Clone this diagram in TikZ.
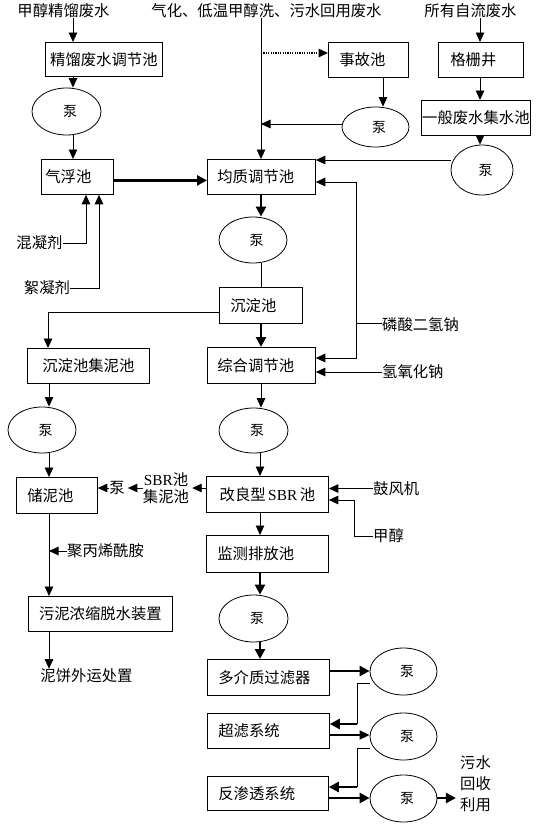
\documentclass[tikz,border=0pt]{standalone}
\usepackage{fontspec}
\setmainfont{Noto Sans CJK SC}
\newfontfamily\latf{Liberation Serif}
\usetikzlibrary{shapes.geometric,arrows.meta}
\newcommand{\pumptext}{\hspace*{7bp}泵}
\begin{document}
\begin{tikzpicture}[x=1bp,y=-1bp,
 every node/.style={font=\fontsize{15.4}{17}\selectfont},
 box/.style={draw, line width=0.8bp, inner ysep=0pt, inner xsep=0pt, anchor=north west},
 lbox/.style={box, align=left},
 pump/.style={draw, ellipse, line width=0.8bp, inner sep=0pt, font=\fontsize{14}{16}\selectfont},
 lbl/.style={inner sep=0pt},
 ln/.style={line width=0.9bp},
 arr/.style={ln, -{Triangle[width=8.5bp,length=9.5bp]}},
 tarr/.style={line width=2.6bp, -{Triangle[width=10bp,length=10bp]}},
 marr/.style={line width=1.6bp, -{Triangle[width=9bp,length=10bp]}},
 dotarr/.style={line width=1.4bp, dash pattern=on 1.2bp off 1.2bp, -{Triangle[width=8.5bp,length=9.5bp]}},
]
\useasboundingbox (0,0) rectangle (536,824);

% boxes
\node[box, minimum width=117bp, minimum height=34bp] (b1) at (45,42) {精馏废水调节池};
\node[lbox, minimum height=35bp, inner xsep=4bp, text width=64bp] (qf) at (41,159) {气浮池};
\node[lbox, minimum height=35bp, inner xsep=10bp, text width=88bp] (jz) at (207,159) {均质调节池};
\node[lbox, minimum height=35bp, inner xsep=11bp, text width=58bp] (sg) at (328,42) {事故池};
\node[lbox, minimum height=35bp, inner xsep=12bp, text width=61bp] (gs) at (438,42) {格栅井};
\node[box, minimum width=109bp, minimum height=35bp] (yb) at (421,100) {一般废水集水池};
\node[lbox, minimum height=36bp, inner xsep=11bp, text width=61bp] (cd) at (219,287) {沉淀池};
\node[box, minimum width=122bp, minimum height=35bp] (jn) at (27,348) {沉淀池集泥池};
\node[lbox, minimum height=36bp, inner xsep=10bp, text width=88bp] (zh) at (207,347) {综合调节池};
\node[lbox, minimum height=36bp, inner xsep=11bp, text width=59bp] (cn) at (16,477) {储泥池};
\node[box, minimum width=122bp, minimum height=36bp] (sbr) at (206,476) {改良型{\latf\,SBR\,}池};
\node[lbox, minimum height=37bp, inner xsep=11bp, text width=100bp] (jc) at (206,535) {监测排放池};
\node[box, minimum width=144bp, minimum height=35bp] (wn) at (28,596) {污泥浓缩脱水装置};
\node[lbox, minimum height=36bp, inner xsep=11bp, text width=100bp] (dj) at (207,659) {多介质过滤器};
\node[lbox, minimum height=35bp, inner xsep=11bp, text width=100bp] (cl) at (207,713) {超滤系统};
\node[lbox, minimum height=34bp, inner xsep=11bp, text width=99bp] (fs) at (207,776) {反渗透系统};

% pumps
\node[pump, minimum width=69bp, minimum height=47bp] (p1) at (66.5,111.5) {\pumptext};
\node[pump, minimum width=67bp, minimum height=40bp] (p2) at (375.5,127) {\pumptext};
\node[pump, minimum width=62bp, minimum height=50bp] (p3) at (482,170) {\pumptext};
\node[pump, minimum width=68bp, minimum height=46bp] (p4) at (253,240) {\pumptext};
\node[pump, minimum width=68bp, minimum height=46bp] (p5) at (42,430) {\pumptext};
\node[pump, minimum width=69bp, minimum height=45bp] (p6) at (253.5,430.5) {\pumptext};
\node[pump, minimum width=69bp, minimum height=47bp] (p7) at (253.5,618.5) {\pumptext};
\node[pump, minimum width=67bp, minimum height=47bp] (p8) at (403.5,671.5) {\pumptext};
\node[pump, minimum width=67bp, minimum height=47bp] (p9) at (403.5,736.5) {\pumptext};
\node[pump, minimum width=67bp, minimum height=47bp] (p10) at (403.5,798.5) {\pumptext};

% labels
\node[lbl] (t1) at (63.5,11) {甲醇精馏废水};
\node[lbl] (t2) at (266.5,11) {气化、低温甲醇洗、污水回用废水};
\node[lbl] (t3) at (470.5,11) {所有自流废水};
\node[lbl] (tH) at (39.5,243) {混凝剂};
\node[lbl] (tX) at (47,288) {絮凝剂};
\node[lbl, anchor=west] (tP) at (382,325) {磷酸二氢钠};
\node[lbl, anchor=west] (tN) at (382,372) {氢氧化钠};
\node[lbl, align=center] (tS) at (166,488) {{\latf SBR}池\\集泥池};
\node[lbl] (tB) at (117,488) {泵};
\node[lbl, anchor=west] (tG) at (373,488.5) {鼓风机};
\node[lbl, anchor=west] (tM) at (373,536) {甲醇};
\node[lbl, anchor=west] (tJ) at (67,551) {聚丙烯酰胺};
\node[lbl] (tNB) at (86.5,676) {泥饼外运处置};
\node[lbl, align=center, font=\fontsize{15.4}{21}\selectfont] (tW) at (475.5,784) {污水\\回收\\利用};

% helper coordinates
\coordinate (xA) at (73,0);
\coordinate (xB) at (261,0);
\coordinate (xC) at (383,0);
\coordinate (xD) at (480,0);
\coordinate (xE) at (49,0);
\coordinate (xF) at (260,0);
\coordinate (x86) at (86,0);
\coordinate (x99) at (99,0);
\coordinate (d1) at (261,53);
\coordinate (j2) at (261,124);
\coordinate (c160) at (445,160);
\coordinate (v1) at (356,323);
\coordinate (c182) at (0,182);
\coordinate (c358) at (0,358);
\coordinate (c312) at (48,312);
\coordinate (c488) at (0,488);
\coordinate (j354) at (354,500);
\coordinate (j551) at (49,551);
\coordinate (c671) at (0,671);
\coordinate (k1) at (357,683);
\coordinate (k2) at (357,724);
\coordinate (c735) at (0,735);
\coordinate (k3) at (357,748);
\coordinate (k4) at (357,787);
\coordinate (c798) at (0,798);

% connectors
\draw[arr] (t1.south -| xA) -- (b1.north -| xA);
\draw[arr] (b1.south -| xA) -- (p1.north -| xA);
\draw[arr] (p1.south -| xA) -- (qf.north -| xA);
\draw[tarr] ([yshift=-3.5bp]qf.east) -- ([yshift=-3.5bp]jz.west);
\draw[arr] (t2.south -| xB) -- (jz.north -| xB);
\draw[dotarr] (d1) -- (sg.west |- d1);
\draw[arr] (sg.south -| xC) -- (p2.north -| xC);
\draw[arr] (p2.west |- j2) -- (j2);
\draw[arr] (t3.south -| xD) -- (gs.north -| xD);
\draw[arr] (gs.south -| xD) -- (yb.north -| xD);
\draw[arr] (yb.south -| xD) -- (p3.north -| xD);
\draw[arr] (p3.west |- c160) -- (jz.east |- c160);
\draw[ln] (tP.west |- v1) -- (v1);
\draw[arr] (v1) |- (jz.east |- c182);
\draw[arr] (v1) |- (zh.east |- c358);
\draw[arr] (tN.west) -- (zh.east |- tN.west);
\draw[arr] (tH.east) -| (qf.south -| x86);
\draw[arr] (tX.east) -| (qf.south -| x99);
\draw[tarr] (jz.south -| xB) -- (p4.north -| xB);
\draw[ln] (p4.south -| xB) -- (cd.north -| xB);
\draw[arr] (cd.west |- c312) -| (jn.north -| c312);
\draw[tarr] (cd.south -| xB) -- (zh.north -| xB);
\draw[arr] (jn.south -| xE) -- (p5.north -| xE);
\draw[arr] (p5.south -| xE) -- (cn.north -| xE);
\draw[arr] (zh.south -| xB) -- (p6.north -| xB);
\draw[arr] (p6.south -| xF) -- (sbr.north -| xF);
\draw[arr] (sbr.west |- c488) -- ([xshift=3bp]tS.east |- c488);
\draw[arr] (tS.west |- c488) -- ([xshift=3bp]tB.east);
\draw[arr] (tB.west) -- (cn.east |- tB.west);
\draw[arr] (tG.west) -- (sbr.east |- tG.west);
\draw[arr] (tM.west) -| (j354) -- (sbr.east |- j354);
\draw[arr] (sbr.south -| xF) -- (jc.north -| xF);
\draw[arr] (cn.south -| xE) -- (wn.north -| xE);
\draw[arr] (tJ.west) -- (j551);
\draw[arr] (wn.south -| xE) -- (tNB.north -| xE);
\draw[tarr] (jc.south -| xF) -- (p7.north -| xF);
\draw[tarr] (p7.south -| xF) -- (dj.north -| xF);
\draw[tarr] (dj.east |- c671) -- (p8.west |- c671);
\draw[ln] (p8.west |- k1) -- (k1) -- (k2);
\draw[tarr] (k2) -- (cl.east |- k2);
\draw[marr] (cl.east |- c735) -- (p9.west |- c735);
\draw[ln] (p9.west |- k3) -- (k3) -- (k4);
\draw[tarr] (k4) -- (fs.east |- k4);
\draw[tarr] (fs.east |- c798) -- (p10.west |- c798);
\draw[tarr] (p10.east |- c798) -- ([xshift=-4bp]tW.west |- c798);
\end{tikzpicture}
\end{document}
